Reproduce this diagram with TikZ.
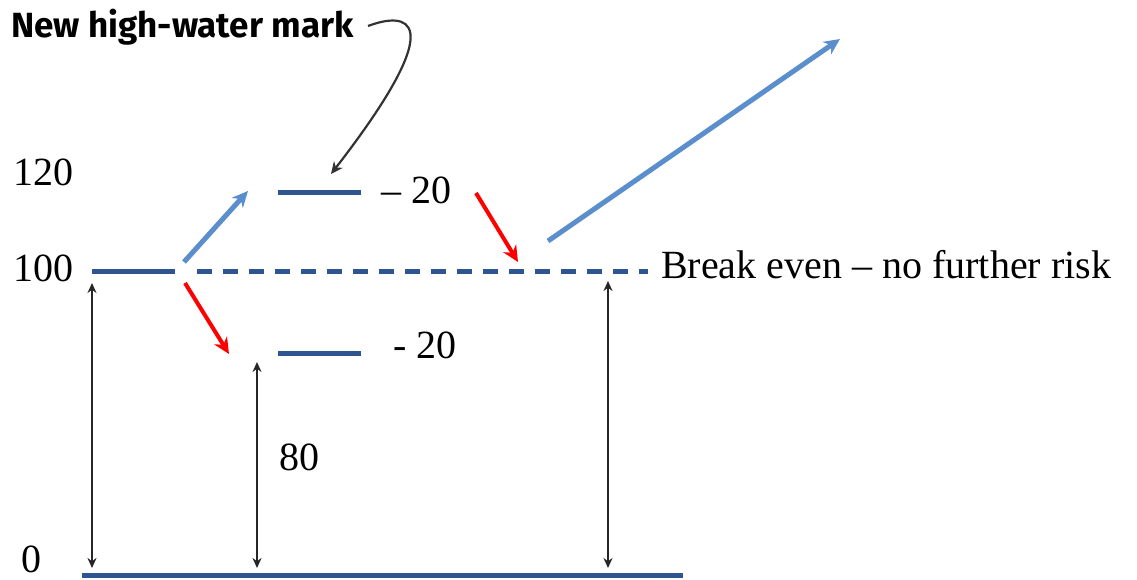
\documentclass[tikz,border=0pt]{standalone}
\usepackage{fontspec}
\setmainfont{Liberation Serif}
\newfontfamily\handfont{Fira Sans}
\usetikzlibrary{arrows.meta}
\definecolor{lvl}{HTML}{2F5590}
\definecolor{upblue}{HTML}{5B8ECC}
\definecolor{downred}{HTML}{FF0000}
\tikzset{
  level/.style={draw=lvl, line width=5pt},
  dashlevel/.style={draw=lvl, line width=5pt, dash pattern=on 15pt off 11pt},
  uparrow/.style={draw=upblue, line width=5pt, -{Stealth[length=16pt,width=15pt]}},
  downarrow/.style={draw=downred, line width=4pt, -{Stealth[length=16pt,width=15pt]}},
  span/.style={draw=black!85, line width=2.2pt, {Stealth[length=10pt,width=9pt]}-{Stealth[length=10pt,width=9pt]}},
  num/.style={font=\fontsize{40}{44}\selectfont, inner sep=0pt},
  note/.style={font=\handfont\bfseries\fontsize{35}{38}\selectfont, inner sep=0pt},
}
\begin{document}
\begin{tikzpicture}[x=1pt,y=-1pt]
\useasboundingbox (0,0) rectangle (1137,579);
% level lines
\coordinate (l100a) at (92,271);
\coordinate (l100b) at (175,271);
\coordinate (d100a) at (197,271);
\coordinate (d100b) at (648,271);
\coordinate (l120a) at (278,192);
\coordinate (l120b) at (361,192);
\coordinate (l80a) at (278,353);
\coordinate (l80b) at (361,353);
\coordinate (l0a) at (82,575);
\coordinate (l0b) at (683,575);
\draw[level] (l100a) -- (l100b);
\draw[dashlevel] (d100a) -- (d100b);
\draw[level] (l120a) -- (l120b);
\draw[level] (l80a) -- (l80b);
\draw[level] (l0a) -- (l0b);
% labels
\node[num] (t120) at (43,172) {120};
\node[num] (t100) at (43,268) {100};
\node[num] (t0) at (31,559) {0};
\node[num, anchor=west] (m20a) at (381,190) {\textendash\ 20};
\node[num, anchor=west] (m20b) at (393,345) {- 20};
\node[num] (t80) at (299,457) {80};
\node[num, anchor=west] (be) at (661,265) {Break even \textendash\ no further risk};
\node[note, anchor=west] (hwm) at (11,27) {New high-water mark};
% moves
\coordinate (u1s) at (184,262);
\coordinate (u1e) at (248,191);
\coordinate (u2s) at (548,241);
\coordinate (u2e) at (840,39);
\coordinate (r1s) at (185,283);
\coordinate (r1e) at (229,354);
\coordinate (r2s) at (476,193);
\coordinate (r2e) at (518,262);
\draw[uparrow] (u1s) -- (u1e);
\draw[uparrow] (u2s) -- (u2e);
\draw[downarrow] (r1s) -- (r1e);
\draw[downarrow] (r2s) -- (r2e);
% spans
\coordinate (s1t) at (92,283);
\coordinate (s1b) at (92,568);
\coordinate (s2t) at (257,362);
\coordinate (s2b) at (257,568);
\coordinate (s3t) at (608,281);
\coordinate (s3b) at (608,568);
\draw[span] (s1t) -- (s1b);
\draw[span] (s2t) -- (s2b);
\draw[span] (s3t) -- (s3b);
% pointer to new high-water mark
\coordinate (cs) at (368,26);
\coordinate (ce) at (331,174);
\draw[draw=black!80, line width=2.2pt, -{Stealth[length=12pt,width=11pt]}]
  (cs) .. controls (405,12) and (455,14) .. (ce);
\end{tikzpicture}
\end{document}
